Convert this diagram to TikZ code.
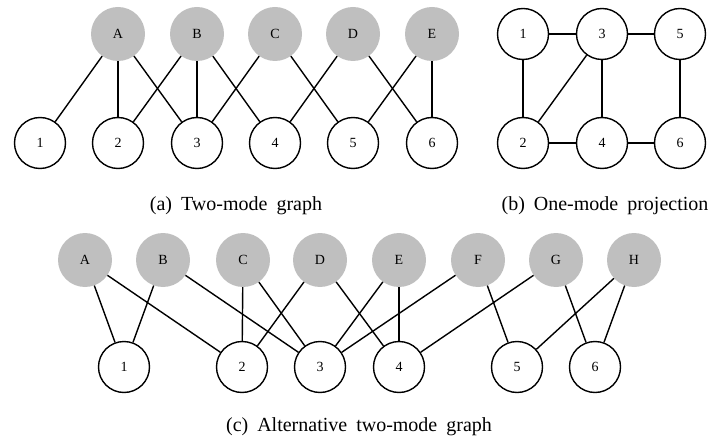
\documentclass[tikz,border=0pt]{standalone}
\usepackage{fontspec}
\setmainfont{Liberation Serif}
\begin{document}
\begin{tikzpicture}[x=1pt,y=-1pt,
  grp/.style={circle,fill=black!25,draw=none,minimum size=54pt,inner sep=0pt,font=\fontsize{14}{16}\selectfont},
  itm/.style={circle,fill=white,draw=black,line width=1.4pt,minimum size=51pt,inner sep=0pt,font=\fontsize{14}{16}\selectfont},
  lnk/.style={line width=1.4pt,black},
  captext/.style={anchor=base,font=\fontsize{20}{23}\selectfont,inner sep=0pt}]
\useasboundingbox (0,0) rectangle (711,438);

% (a) two-mode graph
\foreach \n/\x in {A/118,B/197,C/275,D/353,E/432}
  \node[grp] (a\n) at (\x,34) {\n};
\foreach \n/\x in {1/40,2/118,3/197,4/275,5/353,6/432}
  \node[itm] (a\n) at (\x,143) {\n};
\foreach \u/\v in {A/1,A/2,A/3,B/2,B/3,B/4,C/3,C/5,D/4,D/6,E/5,E/6}
  \draw[lnk] (a\u) -- (a\v);
\node[captext] (capa) at (236,211) {(a)\hspace{0.45em}Two-mode\hspace{0.45em}graph};

% (b) one-mode projection
\node[itm] (b1) at (523,34) {1};
\node[itm] (b3) at (602,34) {3};
\node[itm] (b5) at (680,34) {5};
\node[itm] (b2) at (523,143) {2};
\node[itm] (b4) at (602,143) {4};
\node[itm] (b6) at (680,143) {6};
\foreach \u/\v in {1/3,3/5,1/2,2/3,3/4,5/6,2/4,4/6}
  \draw[lnk] (b\u) -- (b\v);
\node[captext] (capb) at (605,211) {(b)\hspace{0.45em}One-mode\hspace{0.45em}projection};

% (c) alternative two-mode graph
\foreach \n/\x in {A/85,B/163,C/243,D/320,E/399,F/478,G/556,H/634}
  \node[grp] (c\n) at (\x,260) {\n};
\foreach \n/\x in {1/124,2/242,3/320,4/399,5/517,6/595}
  \node[itm] (c\n) at (\x,367) {\n};
\foreach \u/\v in {A/1,A/2,B/1,B/3,C/2,C/3,D/2,D/4,E/3,E/4,F/3,F/5,G/4,G/6,H/5,H/6}
  \draw[lnk] (c\u) -- (c\v);
\node[captext] (capc) at (359,431) {(c)\hspace{0.45em}Alternative\hspace{0.45em}two-mode\hspace{0.45em}graph};
\end{tikzpicture}
\end{document}
